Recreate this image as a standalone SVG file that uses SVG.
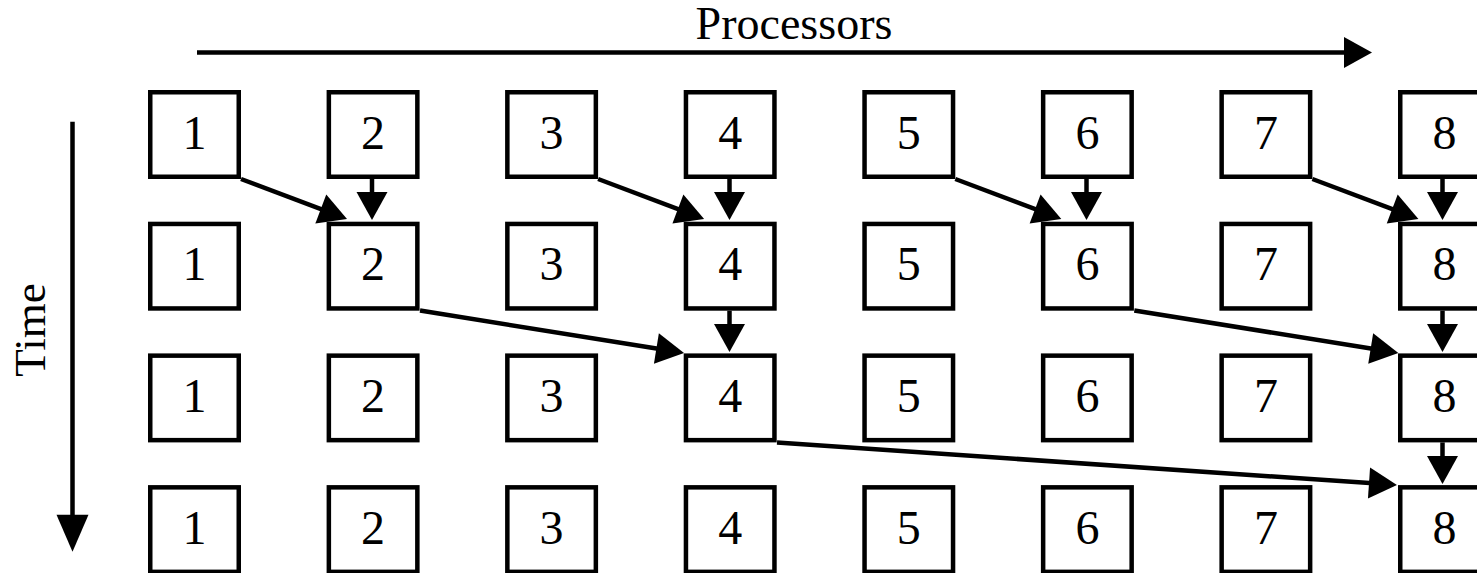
<svg xmlns="http://www.w3.org/2000/svg" width="1477" height="573" viewBox="0 0 1477 573">
<style>
.box{fill:#fff;stroke:#000;stroke-width:4.5}
.num{font-family:"Liberation Serif","Times New Roman",serif;font-size:48px;text-anchor:middle;fill:#000}
.lbl{font-family:"Liberation Serif","Times New Roman",serif;font-size:46px;text-anchor:middle;fill:#000}
.arr{stroke:#000;stroke-width:4.5;fill:none;marker-end:url(#head)}
</style>
<defs>
<marker id="head" markerUnits="userSpaceOnUse" markerWidth="28" markerHeight="31" refX="8" refY="15.5" orient="auto" overflow="visible">
<path d="M0,0 L28,15.5 L0,31 Z" fill="#000"/>
</marker>
<marker id="headT" markerUnits="userSpaceOnUse" markerWidth="37" markerHeight="32" refX="17" refY="16" orient="auto" overflow="visible">
<path d="M0,0 L37,16 L0,32 Z" fill="#000"/>
</marker>
</defs>
<g id="axis-processors">
<text class="lbl" x="794" y="39">Processors</text>
<line x1="197" y1="52.5" x2="1352" y2="52.5" stroke="#000" stroke-width="4.5" marker-end="url(#head)"/>
</g>
<g id="axis-time">
<text class="lbl" style="font-size:45px" transform="translate(45,330) rotate(-90)">Time</text>
<line x1="72.5" y1="121.7" x2="72.5" y2="531.7" stroke="#000" stroke-width="4.5" marker-end="url(#headT)"/>
</g>
<g id="r1c1"><rect class="box" x="150.25" y="92.25" width="88.5" height="84.5"/><text class="num" x="194.5" y="148.5">1</text></g>
<g id="r1c2"><rect class="box" x="328.85" y="92.25" width="88.5" height="84.5"/><text class="num" x="373.1" y="148.5">2</text></g>
<g id="r1c3"><rect class="box" x="507.35" y="92.25" width="88.5" height="84.5"/><text class="num" x="551.6" y="148.5">3</text></g>
<g id="r1c4"><rect class="box" x="685.95" y="92.25" width="88.5" height="84.5"/><text class="num" x="730.2" y="148.5">4</text></g>
<g id="r1c5"><rect class="box" x="864.55" y="92.25" width="88.5" height="84.5"/><text class="num" x="908.8" y="148.5">5</text></g>
<g id="r1c6"><rect class="box" x="1043.15" y="92.25" width="88.5" height="84.5"/><text class="num" x="1087.4" y="148.5">6</text></g>
<g id="r1c7"><rect class="box" x="1221.65" y="92.25" width="88.5" height="84.5"/><text class="num" x="1265.9" y="148.5">7</text></g>
<g id="r1c8"><rect class="box" x="1400.25" y="92.25" width="88.5" height="84.5"/><text class="num" x="1444.5" y="148.5">8</text></g>

<g id="r2c1"><rect class="box" x="150.25" y="223.95" width="88.5" height="84.5"/><text class="num" x="194.5" y="280.2">1</text></g>
<g id="r2c2"><rect class="box" x="328.85" y="223.95" width="88.5" height="84.5"/><text class="num" x="373.1" y="280.2">2</text></g>
<g id="r2c3"><rect class="box" x="507.35" y="223.95" width="88.5" height="84.5"/><text class="num" x="551.6" y="280.2">3</text></g>
<g id="r2c4"><rect class="box" x="685.95" y="223.95" width="88.5" height="84.5"/><text class="num" x="730.2" y="280.2">4</text></g>
<g id="r2c5"><rect class="box" x="864.55" y="223.95" width="88.5" height="84.5"/><text class="num" x="908.8" y="280.2">5</text></g>
<g id="r2c6"><rect class="box" x="1043.15" y="223.95" width="88.5" height="84.5"/><text class="num" x="1087.4" y="280.2">6</text></g>
<g id="r2c7"><rect class="box" x="1221.65" y="223.95" width="88.5" height="84.5"/><text class="num" x="1265.9" y="280.2">7</text></g>
<g id="r2c8"><rect class="box" x="1400.25" y="223.95" width="88.5" height="84.5"/><text class="num" x="1444.5" y="280.2">8</text></g>

<g id="r3c1"><rect class="box" x="150.25" y="355.65" width="88.5" height="84.5"/><text class="num" x="194.5" y="411.9">1</text></g>
<g id="r3c2"><rect class="box" x="328.85" y="355.65" width="88.5" height="84.5"/><text class="num" x="373.1" y="411.9">2</text></g>
<g id="r3c3"><rect class="box" x="507.35" y="355.65" width="88.5" height="84.5"/><text class="num" x="551.6" y="411.9">3</text></g>
<g id="r3c4"><rect class="box" x="685.95" y="355.65" width="88.5" height="84.5"/><text class="num" x="730.2" y="411.9">4</text></g>
<g id="r3c5"><rect class="box" x="864.55" y="355.65" width="88.5" height="84.5"/><text class="num" x="908.8" y="411.9">5</text></g>
<g id="r3c6"><rect class="box" x="1043.15" y="355.65" width="88.5" height="84.5"/><text class="num" x="1087.4" y="411.9">6</text></g>
<g id="r3c7"><rect class="box" x="1221.65" y="355.65" width="88.5" height="84.5"/><text class="num" x="1265.9" y="411.9">7</text></g>
<g id="r3c8"><rect class="box" x="1400.25" y="355.65" width="88.5" height="84.5"/><text class="num" x="1444.5" y="411.9">8</text></g>

<g id="r4c1"><rect class="box" x="150.25" y="487.35" width="88.5" height="84.5"/><text class="num" x="194.5" y="543.6">1</text></g>
<g id="r4c2"><rect class="box" x="328.85" y="487.35" width="88.5" height="84.5"/><text class="num" x="373.1" y="543.6">2</text></g>
<g id="r4c3"><rect class="box" x="507.35" y="487.35" width="88.5" height="84.5"/><text class="num" x="551.6" y="543.6">3</text></g>
<g id="r4c4"><rect class="box" x="685.95" y="487.35" width="88.5" height="84.5"/><text class="num" x="730.2" y="543.6">4</text></g>
<g id="r4c5"><rect class="box" x="864.55" y="487.35" width="88.5" height="84.5"/><text class="num" x="908.8" y="543.6">5</text></g>
<g id="r4c6"><rect class="box" x="1043.15" y="487.35" width="88.5" height="84.5"/><text class="num" x="1087.4" y="543.6">6</text></g>
<g id="r4c7"><rect class="box" x="1221.65" y="487.35" width="88.5" height="84.5"/><text class="num" x="1265.9" y="543.6">7</text></g>
<g id="r4c8"><rect class="box" x="1400.25" y="487.35" width="88.5" height="84.5"/><text class="num" x="1444.5" y="543.6">8</text></g>

<g id="connectors">
<line class="arr" x1="241" y1="179" x2="328.3" y2="211.9"/>
<line class="arr" x1="598.1" y1="179" x2="685.4" y2="211.9"/>
<line class="arr" x1="955.3" y1="179" x2="1042.6" y2="211.9"/>
<line class="arr" x1="1312.4" y1="179" x2="1399.7" y2="211.9"/>
<line class="arr" x1="372" y1="179" x2="372" y2="200"/>
<line class="arr" x1="729.5" y1="179" x2="729.5" y2="200"/>
<line class="arr" x1="1086.5" y1="179" x2="1086.5" y2="200"/>
<line class="arr" x1="1442.5" y1="179" x2="1442.5" y2="200"/>
<line class="arr" x1="420" y1="310.5" x2="664.3" y2="349.8"/>
<line class="arr" x1="1134.3" y1="310.5" x2="1378.6" y2="349.8"/>
<line class="arr" x1="729.5" y1="310.7" x2="729.5" y2="332"/>
<line class="arr" x1="1442.5" y1="310.7" x2="1442.5" y2="332"/>
<line class="arr" x1="777" y1="442.5" x2="1377" y2="483.6"/>
<line class="arr" x1="1442.5" y1="442.4" x2="1442.5" y2="464"/>
</g>
</svg>
